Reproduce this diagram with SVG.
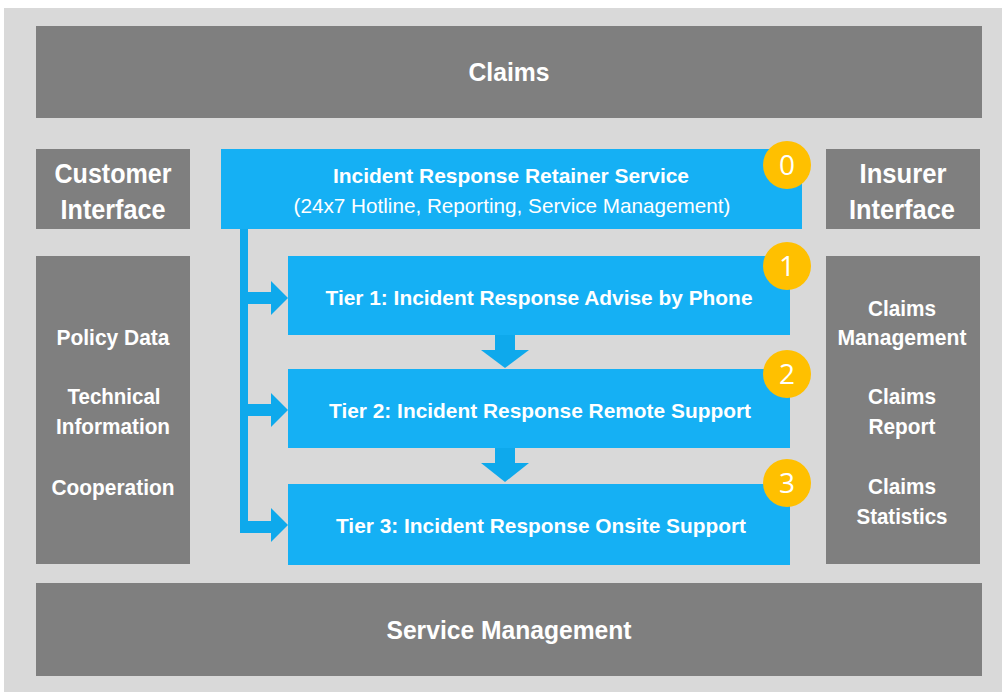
<svg xmlns="http://www.w3.org/2000/svg" width="1004" height="692" viewBox="0 0 1004 692">
<style>
.g{fill:#7f7f7f}
.b{fill:#15b0f4}
.a{fill:#0ea9ec}
.t{font-family:"Liberation Sans",Arial,sans-serif;font-weight:bold;fill:#ffffff;text-anchor:middle}
.n{font-weight:normal}
.badge{fill:#ffc000}
.d{font-family:"Open Sans","Noto Sans",sans-serif;fill:#ffffff;text-anchor:middle;font-size:28px}
</style>
<rect x="0" y="0" width="1004" height="692" fill="#ffffff"/>
<rect x="4" y="8" width="998" height="684" fill="#d9d9d9"/>
<g id="claims">
<rect class="g" x="36" y="26" width="946" height="92"/>
<text class="t" x="509" y="81" font-size="26" textLength="81" lengthAdjust="spacingAndGlyphs">Claims</text>
</g>
<g id="customer-interface">
<rect class="g" x="36" y="149" width="154" height="80"/>
<text class="t" x="113" y="183" font-size="27" textLength="117" lengthAdjust="spacingAndGlyphs">Customer</text>
<text class="t" x="113" y="219" font-size="27" textLength="105" lengthAdjust="spacingAndGlyphs">Interface</text>
</g>
<g id="customer-data">
<rect class="g" x="36" y="256" width="154" height="308"/>
<text class="t" x="113" y="345" font-size="22" textLength="113" lengthAdjust="spacingAndGlyphs">Policy Data</text>
<text class="t" x="114" y="404" font-size="22" textLength="93" lengthAdjust="spacingAndGlyphs">Technical</text>
<text class="t" x="113" y="434" font-size="22" textLength="114" lengthAdjust="spacingAndGlyphs">Information</text>
<text class="t" x="113" y="495" font-size="22" textLength="123" lengthAdjust="spacingAndGlyphs">Cooperation</text>
</g>
<g id="insurer-interface">
<rect class="g" x="826" y="149" width="154" height="80"/>
<text class="t" x="903" y="183" font-size="27" textLength="87" lengthAdjust="spacingAndGlyphs">Insurer</text>
<text class="t" x="902" y="219" font-size="27" textLength="106" lengthAdjust="spacingAndGlyphs">Interface</text>
</g>
<g id="insurer-data">
<rect class="g" x="826" y="256" width="154" height="308"/>
<text class="t" x="902" y="316" font-size="22" textLength="68" lengthAdjust="spacingAndGlyphs">Claims</text>
<text class="t" x="902" y="345" font-size="22" textLength="129" lengthAdjust="spacingAndGlyphs">Management</text>
<text class="t" x="902" y="404" font-size="22" textLength="68" lengthAdjust="spacingAndGlyphs">Claims</text>
<text class="t" x="902" y="434" font-size="22" textLength="67" lengthAdjust="spacingAndGlyphs">Report</text>
<text class="t" x="902" y="494" font-size="22" textLength="68" lengthAdjust="spacingAndGlyphs">Claims</text>
<text class="t" x="902" y="524" font-size="22" textLength="91" lengthAdjust="spacingAndGlyphs">Statistics</text>
</g>
<g id="service-management">
<rect class="g" x="36" y="583" width="946" height="93"/>
<text class="t" x="509" y="639" font-size="26" textLength="245" lengthAdjust="spacingAndGlyphs">Service Management</text>
</g>
<g id="connectors">
<rect class="a" x="240" y="229" width="8" height="304"/>
<rect class="a" x="240" y="292" width="34" height="12"/>
<polygon class="a" points="271,281 288,298 271,315"/>
<rect class="a" x="240" y="404" width="34" height="12"/>
<polygon class="a" points="271,393 288,410 271,427"/>
<rect class="a" x="240" y="521" width="34" height="12"/>
<polygon class="a" points="271,508 288,525 271,542"/>
<rect class="a" x="495" y="335" width="20" height="16"/>
<polygon class="a" points="481,350 529,350 505,368"/>
<rect class="a" x="495" y="448" width="20" height="16"/>
<polygon class="a" points="481,463 529,463 505,482"/>
</g>
<g id="retainer">
<rect class="b" x="221" y="149" width="581" height="80"/>
<text class="t" x="511" y="183" font-size="21" textLength="356" lengthAdjust="spacingAndGlyphs">Incident Response Retainer Service</text>
<text class="t n" x="512" y="213" font-size="21" textLength="437" lengthAdjust="spacingAndGlyphs">(24x7 Hotline, Reporting, Service Management)</text>
</g>
<g id="tier1">
<rect class="b" x="288" y="256" width="502" height="79"/>
<text class="t" x="539" y="305" font-size="21" textLength="427" lengthAdjust="spacingAndGlyphs">Tier 1: Incident Response Advise by Phone</text>
</g>
<g id="tier2">
<rect class="b" x="288" y="369" width="502" height="79"/>
<text class="t" x="540" y="418" font-size="21" textLength="422" lengthAdjust="spacingAndGlyphs">Tier 2: Incident Response Remote Support</text>
</g>
<g id="tier3">
<rect class="b" x="288" y="484" width="502" height="81"/>
<text class="t" x="541" y="533" font-size="21" textLength="410" lengthAdjust="spacingAndGlyphs">Tier 3: Incident Response Onsite Support</text>
</g>
<g id="badge0"><circle class="badge" cx="787" cy="165" r="24"/><text class="d" x="787" y="175">0</text></g>
<g id="badge1"><circle class="badge" cx="787" cy="266" r="24"/><text class="d" x="787" y="276">1</text></g>
<g id="badge2"><circle class="badge" cx="787" cy="374" r="24"/><text class="d" x="787" y="384">2</text></g>
<g id="badge3"><circle class="badge" cx="787" cy="483" r="24"/><text class="d" x="787" y="493">3</text></g>
</svg>
